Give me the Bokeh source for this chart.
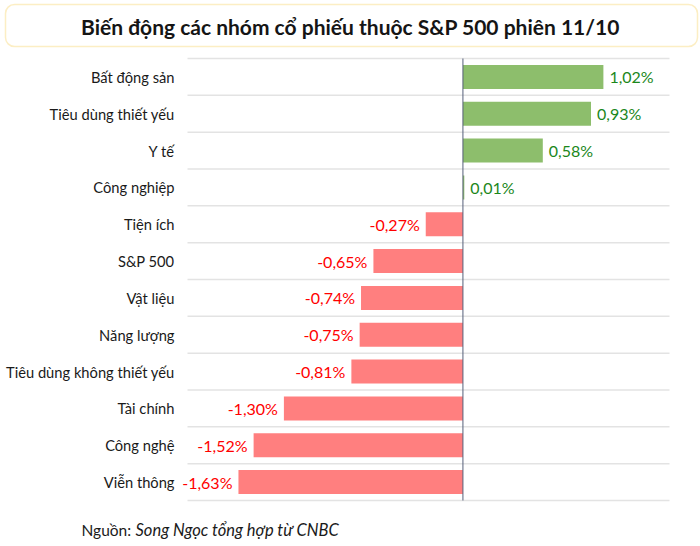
from bokeh.plotting import figure
from bokeh.models import ColumnDataSource, Range1d, BoxAnnotation
from bokeh.core.properties import value
from bokeh.embed import file_html
from bokeh.resources import INLINE

title_text = "Biến động các nhóm cổ phiếu thuộc S&P 500 phiên 11/10"
source_prefix = "Nguồn:"
source_text = "Song Ngọc tổng hợp từ CNBC"

categories = ["Bất động sản", "Tiêu dùng thiết yếu", "Y tế", "Công nghiệp", "Tiện ích",
              "S&P 500", "Vật liệu", "Năng lượng", "Tiêu dùng không thiết yếu",
              "Tài chính", "Công nghệ", "Viễn thông"]
changes = [1.02, 0.93, 0.58, 0.01, -0.27, -0.65, -0.74, -0.75, -0.81, -1.30, -1.52, -1.63]

FONT = "Lato"

# ---- canvas / plot-area geometry (pixels) ----
W, H = 700, 546
PL, PR, PT, PB = 187, 669, 58, 500      # plot area inside the canvas
XMIN, XMAX = -2.0, 1.5
n = len(categories)

pxx = (PR - PL) / (XMAX - XMIN)
pyy = (PB - PT) / n
xs = XMIN - PL / pxx
xe = XMAX + (W - PR) / pxx
ytop = 0.5 - PT / pyy
ybot = n + 0.5 + (H - PB) / pyy

p = figure(width=W, height=H, x_range=Range1d(xs, xe), y_range=Range1d(ybot, ytop),
           x_axis_location=None, y_axis_location=None, toolbar_location=None,
           output_backend="svg", min_border=0)
p.outline_line_color = None
p.xgrid.visible = False
p.ygrid.visible = False

# ---- title box ----
p.add_layout(BoxAnnotation(left=xs + 5 / pxx, right=xs + 697 / pxx,
                           top=ytop + 4 / pyy, bottom=ytop + 46 / pyy, border_radius=9,
                           fill_color=None, fill_alpha=0, level="underlay",
                           line_color="#f5c73a", line_width=1.5))
p.text(x=[xs], y=[ytop], x_offset=350, y_offset=26, text=[title_text],
       text_align="center", text_baseline="middle",
       text_font=value(FONT), text_font_style="bold", text_font_size="21px",
       text_color="#151515")

# ---- grid lines between categories ----
bounds = [i + 0.5 for i in range(0, n + 1)]
p.segment(x0=[XMIN] * len(bounds), x1=[XMAX] * len(bounds), y0=bounds, y1=bounds,
          line_color="#e3e3e3", line_width=1.5)

# ---- bars ----
ys = list(range(1, n + 1))
colors = ["#8dbe6c" if v >= 0 else "#ff7f7f" for v in changes]
labels = [("%.2f" % v).replace(".", ",") + "%" for v in changes]
src = ColumnDataSource(dict(y=ys, v=changes, c=colors, lab=labels, cat=categories,
                            x0=[XMIN] * n))
p.hbar(y="y", left=0, right="v", height=0.65, fill_color="c", line_color=None, source=src)

# zero line
p.segment(x0=[0], x1=[0], y0=[0.5], y1=[n + 0.5], line_color="#56607a", line_width=1)

# category labels
p.text(x="x0", y="y", text="cat", source=src, x_offset=-13, text_align="right",
       text_baseline="middle", text_font=value(FONT), text_font_size="14.7px",
       text_color="#1a1a1a")

# value labels
pos_src = ColumnDataSource(dict(y=[y for y, v in zip(ys, changes) if v >= 0],
                                v=[v for v in changes if v >= 0],
                                lab=[l for l, v in zip(labels, changes) if v >= 0]))
neg_src = ColumnDataSource(dict(y=[y for y, v in zip(ys, changes) if v < 0],
                                v=[v for v in changes if v < 0],
                                lab=[l for l, v in zip(labels, changes) if v < 0]))
p.text(x="v", y="y", text="lab", source=pos_src, x_offset=6, text_align="left",
       text_baseline="middle", text_font=value(FONT), text_font_size="16px",
       text_color="#1b871b")
p.text(x="v", y="y", text="lab", source=neg_src, x_offset=-6, text_align="right",
       text_baseline="middle", text_font=value(FONT), text_font_size="16px",
       text_color="#ff0000")

# ---- footer ----
p.text(x=[xs], y=[ybot], x_offset=81, y_offset=-17, text=[source_prefix],
       text_align="left", text_baseline="middle",
       text_font=value(FONT), text_font_size="15.5px", text_color="#1a1a1a")
p.text(x=[xs], y=[ybot], x_offset=135, y_offset=-17, text=[source_text],
       text_align="left", text_baseline="middle",
       text_font=value(FONT), text_font_style="italic", text_font_size="16.5px",
       text_color="#1a1a1a")

open("out.html", "w").write(file_html(p, INLINE))
